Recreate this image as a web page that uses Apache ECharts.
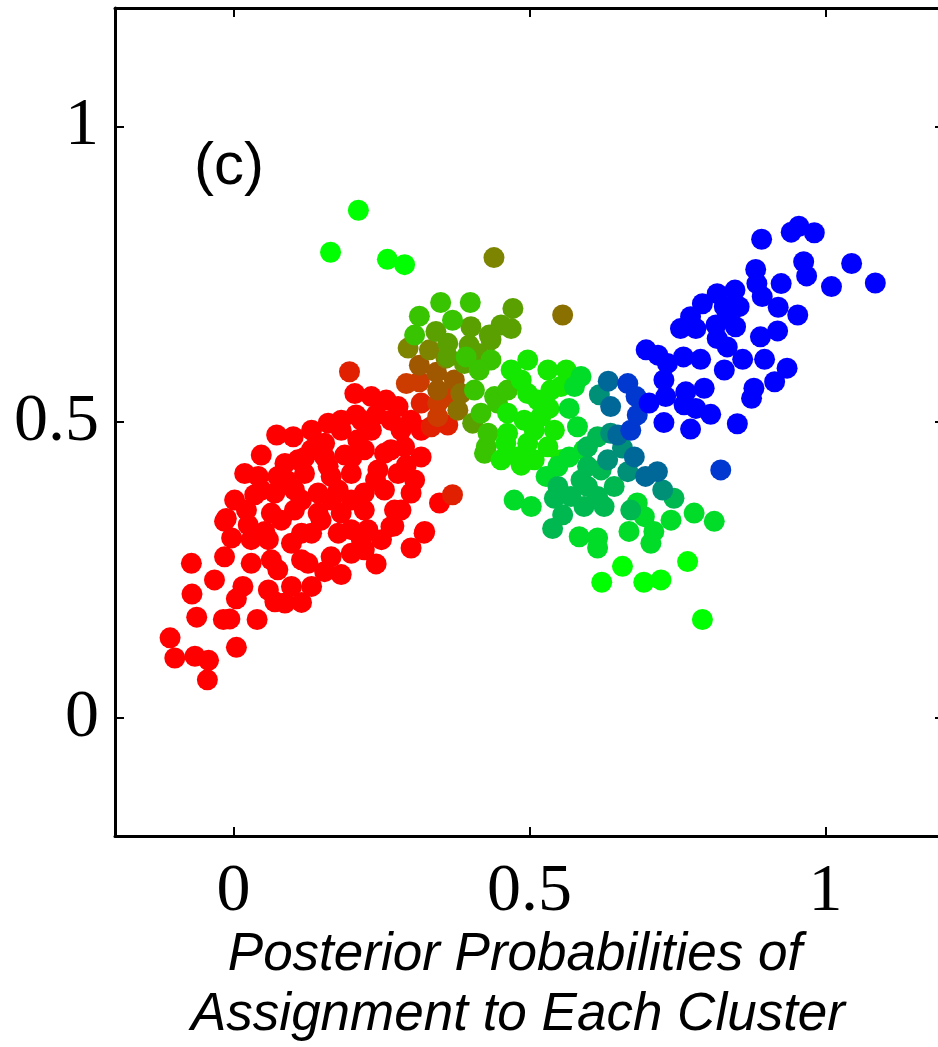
<!DOCTYPE html>
<html><head><meta charset="utf-8">
<script src="https://cdn.jsdelivr.net/npm/echarts@6/dist/echarts.min.js"></script>
<style>html,body{margin:0;padding:0;background:#fff;overflow:hidden}#c{width:946px;height:1047px}</style>
</head><body><div id="c"></div>
<script>
const xTicks = [0, 0.5, 1];
const yTicks = [0, 0.5, 1];
const panelLabel = '(c)';
const xTitle = ['Posterior Probabilities of', 'Assignment to Each Cluster'];

const red = [[-0.107,0.135],[-0.099,0.101],[-0.065,0.104],[-0.042,0.097],[-0.044,0.064],[0.005,0.119],[-0.062,0.170],[-0.017,0.166],[-0.006,0.167],[0.040,0.166],[-0.070,0.209],[-0.071,0.261],[-0.032,0.233],[0.005,0.201],[0.016,0.222],[0.070,0.196],[0.087,0.194],[0.115,0.195],[0.059,0.216],[0.132,0.222],[0.126,0.261],[0.154,0.247],[0.241,0.260],[0.300,0.287],[0.322,0.312],[0.271,0.324],[0.221,0.284],[0.199,0.278],[0.165,0.272],[-0.015,0.272],[-0.003,0.304],[0.030,0.261],[0.075,0.250],[0.098,0.222],[0.059,0.301],[0.098,0.295],[0.132,0.312],[0.177,0.312],[0.227,0.318],[-0.015,0.332],[0.025,0.326],
[0.205,0.548],[0.233,0.543],[0.207,0.512],[0.241,0.512],[0.278,0.526],[0.160,0.498],[0.073,0.478],[0.101,0.475],[0.154,0.464],[0.210,0.470],[0.233,0.486],[0.266,0.503],[0.317,0.486],[0.317,0.441],[0.289,0.458],[0.255,0.447],[0.221,0.453],[0.188,0.444],[0.154,0.441],[0.109,0.436],[0.087,0.430],[0.019,0.413],[0.042,0.408],[0.075,0.408],[0.120,0.413],[0.165,0.408],[0.199,0.413],[0.244,0.419],[0.278,0.413],[0.306,0.402],[0.002,0.368],[0.036,0.377],[0.070,0.380],[0.103,0.385],[0.143,0.380],[0.177,0.385],[0.221,0.380],[0.255,0.385],[0.300,0.380],[0.348,0.363],[-0.012,0.337],[0.064,0.346],[0.103,0.351],[0.143,0.346],[0.182,0.346],[0.221,0.351],[0.272,0.351],[0.323,0.315],[0.053,0.315],[0.115,0.312],[0.199,0.318],[0.266,0.323],
[0.115,0.368],[0.165,0.368],[0.182,0.503],[0.132,0.486],[0.300,0.503],
[0.047,0.444],[0.132,0.453],[0.182,0.486],[0.216,0.503],[0.258,0.537],[0.283,0.486],[0.030,0.301],[0.081,0.334],[0.148,0.334],[0.216,0.301],[0.250,0.301],[0.115,0.267],[0.182,0.242],[0.064,0.267],[0.022,0.351],[0.047,0.385],[0.266,0.453],[0.292,0.427],[0.199,0.368],[0.283,0.351],[0.089,0.402],[0.240,0.402],[0.160,0.425],[0.120,0.440],[0.200,0.440]];
const redOrange = [[0.196,0.585],[0.370,0.377],[0.317,0.532],[0.362,0.495],[0.334,0.492]];
const rust = [[0.292,0.565],[0.314,0.568],[0.345,0.509],[0.362,0.543],[0.345,0.532]];
const brown = [[0.314,0.596],[0.345,0.554],[0.343,0.584],[0.373,0.571]];
const oliveBrown = [[0.379,0.520],[0.384,0.548],[0.556,0.681]];
const olive = [[0.295,0.625],[0.331,0.622],[0.440,0.778],[0.359,0.608]];
const oliveGreen = [[0.472,0.692],[0.362,0.633],[0.390,0.599],[0.404,0.498],[0.342,0.653],[0.452,0.664],[0.469,0.658],[0.432,0.647],[0.398,0.630],[0.435,0.639],[0.401,0.661],[0.413,0.616],[0.362,0.610]];
const yellowGreen = [[0.350,0.702],[0.400,0.702],[0.314,0.679],[0.370,0.672],[0.306,0.647],[0.435,0.605],[0.415,0.588],[0.407,0.554],[0.424,0.447],[0.427,0.458],[0.393,0.610],[0.418,0.515],[0.430,0.481],[0.441,0.543],[0.446,0.532],[0.463,0.554]];
const brightGreen = [[0.452,0.436],[0.486,0.427],[0.460,0.464],[0.497,0.605],[0.469,0.588],[0.486,0.571],[0.531,0.588],[0.562,0.588],[0.497,0.548],[0.514,0.537],[0.536,0.554],[0.463,0.515],[0.491,0.503],[0.519,0.509],[0.508,0.486],[0.542,0.486],[0.463,0.481],[0.497,0.464],[0.531,0.458],[0.508,0.436],[0.553,0.436],[0.480,0.441],[0.533,0.523],[0.553,0.560]];
const green = [[0.576,0.560],[0.587,0.577],[0.567,0.523],[0.581,0.492],[0.474,0.368],[0.503,0.357],[0.528,0.408],[0.548,0.425],[0.567,0.441],[0.592,0.453],[0.584,0.306],[0.615,0.304],[0.615,0.287],[0.682,0.363],[0.694,0.340],[0.739,0.334],[0.778,0.346],[0.812,0.332],[0.668,0.315],[0.710,0.315],[0.705,0.295]];
const seaGreen = [[0.556,0.343],[0.539,0.320],[0.615,0.475],[0.598,0.458],[0.548,0.391],[0.542,0.371],[0.570,0.374],[0.598,0.391],[0.615,0.374],[0.592,0.357],[0.626,0.357],[0.587,0.402],[0.598,0.425],[0.621,0.419],[0.744,0.371],[0.671,0.351],[0.643,0.391]];
const teal = [[0.618,0.546],[0.637,0.481],[0.632,0.436],[0.666,0.416],[0.725,0.385],[0.657,0.456]];
const tealBlue = [[0.633,0.569],[0.637,0.526],[0.649,0.478],[0.677,0.441],[0.696,0.408],[0.716,0.416]];
const blueish = [[0.666,0.565],[0.680,0.543],[0.671,0.486],[0.682,0.512],[0.823,0.419]];
const blue = [[0.892,0.809],[0.942,0.821],[0.955,0.831],[0.981,0.820],[0.963,0.771],[0.968,0.747],[1.044,0.768],[1.084,0.735],[1.010,0.729],[0.882,0.758],[0.925,0.734],[0.884,0.734],[0.893,0.712],[0.847,0.723],[0.817,0.717],[0.792,0.700],[0.829,0.695],[0.854,0.695],[0.920,0.694],[0.953,0.681],[0.834,0.678],[0.772,0.678],[0.755,0.658],[0.781,0.658],[0.815,0.664],[0.848,0.661],[0.919,0.654],[0.890,0.644],[0.817,0.641],[0.834,0.627],[0.697,0.622],[0.717,0.613],[0.760,0.610],[0.789,0.606],[0.860,0.606],[0.897,0.606],[0.829,0.588],[0.935,0.591],[0.914,0.568],[0.879,0.557],[0.875,0.540],[0.727,0.571],[0.730,0.543],[0.764,0.551],[0.795,0.557],[0.761,0.529],[0.781,0.523],[0.806,0.513],[0.851,0.497],[0.772,0.488],[0.727,0.499],[0.702,0.532],[0.733,0.599]];
const lime = [[0.211,0.858],[0.164,0.787],[0.260,0.775],[0.289,0.766],[0.657,0.256],[0.767,0.264],[0.622,0.229],[0.693,0.229],[0.722,0.233],[0.792,0.166]];

const groups = [
  {name: 'red', data: red, color: '#ff0000'},
  {name: 'redOrange', data: redOrange, color: '#e02000'},
  {name: 'rust', data: rust, color: '#cc3c00'},
  {name: 'brown', data: brown, color: '#a05800'},
  {name: 'oliveBrown', data: oliveBrown, color: '#8a7000'},
  {name: 'olive', data: olive, color: '#7c8400'},
  {name: 'oliveGreen', data: oliveGreen, color: '#5aa000'},
  {name: 'yellowGreen', data: yellowGreen, color: '#38c400'},
  {name: 'brightGreen', data: brightGreen, color: '#14e800'},
  {name: 'lime', data: lime, color: '#00ff00'},
  {name: 'green', data: green, color: '#00dc28'},
  {name: 'seaGreen', data: seaGreen, color: '#00b850'},
  {name: 'teal', data: teal, color: '#009078'},
  {name: 'tealBlue', data: tealBlue, color: '#006898'},
  {name: 'blueish', data: blueish, color: '#0038d0'},
  {name: 'blue', data: blue, color: '#0000ff'}
];

const chart = echarts.init(document.getElementById('c'), null, {renderer: 'canvas'});
const tickFont = {fontFamily: 'Liberation Serif', fontSize: 68, color: '#000'};
function mkAxis(dim, pos, showLabel, ticks) {
  return {
    type: 'value', position: pos, min: -0.2, max: 1.2,
    axisLine: {show: true, onZero: false, lineStyle: {color: '#000', width: 3}},
    axisTick: {show: true, inside: true, length: 9, customValues: ticks, lineStyle: {color: '#000', width: 2}},
    axisLabel: showLabel ? Object.assign({show: true, customValues: ticks, margin: dim === 'x' ? 22 : 16}, tickFont) : {show: false},
    splitLine: {show: false}
  };
}
chart.setOption({
  animation: false,
  backgroundColor: '#fff',
  grid: {left: 115, top: 8, right: 2, bottom: 211, containLabel: false},
  xAxis: [mkAxis('x', 'bottom', true, xTicks), mkAxis('x', 'top', false, xTicks)],
  yAxis: [mkAxis('y', 'left', true, yTicks), mkAxis('y', 'right', false, yTicks)],
  graphic: [
    {type: 'text', style: {text: panelLabel, x: 194, y: 167, textVerticalAlign: 'middle', font: '60px "Liberation Sans"', fill: '#000'}},
    {type: 'text', style: {text: xTitle[0], x: 515, y: 955, textAlign: 'center', textVerticalAlign: 'middle', font: 'italic 53px "Liberation Sans"', fill: '#000'}},
    {type: 'text', style: {text: xTitle[1], x: 518, y: 1015, textAlign: 'center', textVerticalAlign: 'middle', font: 'italic 53px "Liberation Sans"', fill: '#000'}}
  ],
  series: groups.map(g => ({
    type: 'scatter', name: g.name, data: g.data, symbol: 'circle', symbolSize: 21,
    itemStyle: {color: g.color, opacity: 1}, xAxisIndex: 0, yAxisIndex: 0
  }))
});
</script></body></html>
